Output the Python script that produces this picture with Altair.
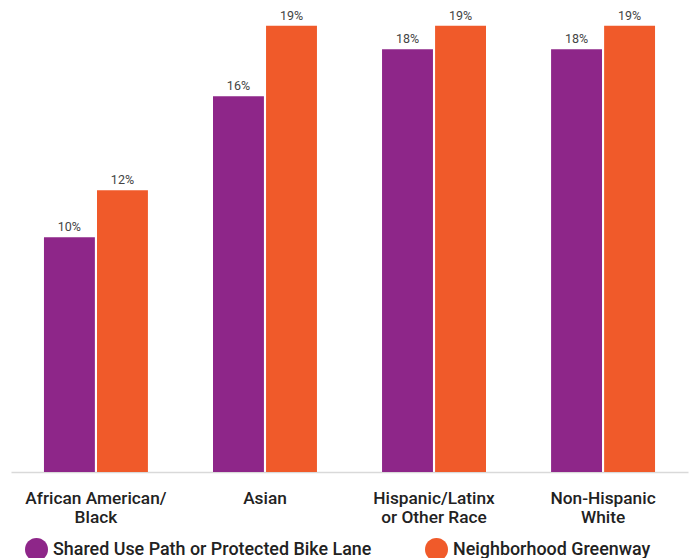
import altair as alt
import pandas as pd

# Share of respondents by race/ethnicity, for two facility types
groups = [
    "African American/\nBlack",
    "Asian",
    "Hispanic/Latinx\nor Other Race",
    "Non-Hispanic\nWhite",
]
facilities = ["Shared Use Path or Protected Bike Lane", "Neighborhood Greenway"]
shared_use_path = [10, 16, 18, 18]
greenway = [12, 19, 19, 19]
colors = ["#8E2689", "#F05A2A"]

rows = []
for g, a, b in zip(groups, shared_use_path, greenway):
    rows.append({"group": g, "facility": facilities[0], "pct": a})
    rows.append({"group": g, "facility": facilities[1], "pct": b})
df = pd.DataFrame(rows)
df["label"] = df["pct"].astype(str) + "%"

x = alt.X(
    "group:N",
    sort=groups,
    scale=alt.Scale(paddingInner=0.385, paddingOuter=0.195),
    axis=alt.Axis(
        title=None,
        labelAngle=0,
        ticks=False,
        labelPadding=17,
        labelLimit=0,
        labelExpr="split(datum.label, '\\n')",
        labelFont="Roboto",
        labelFontSize=17.3,
        labelFontWeight=500,
        labelColor="#222222",
        labelLineHeight=19,
        domainColor="#d9d9d9",
        domainWidth=1.5,
        grid=False,
    ),
)
xoff = alt.XOffset("facility:N", sort=facilities, scale=alt.Scale(paddingInner=0.04))
y = alt.Y("pct:Q", scale=alt.Scale(domain=[0, 20.1], nice=False), axis=None)

bars = alt.Chart(df).mark_bar().encode(
    x=x,
    xOffset=xoff,
    y=y,
    color=alt.Color(
        "facility:N",
        sort=facilities,
        scale=alt.Scale(domain=facilities, range=colors),
        legend=alt.Legend(
            title=None,
            orient="none",
            legendX=14,
            legendY=538,
            direction="horizontal",
            columns=2,
            columnPadding=53,
            padding=0,
            symbolType="circle",
            symbolSize=529,
            symbolStrokeWidth=0,
            symbolOpacity=1,
            labelOffset=5,
            labelLimit=0,
            labelFont="Roboto",
            labelFontSize=17.9,
            labelFontWeight=500,
            labelColor="#222222",
        ),
    ),
)

labels = alt.Chart(df).mark_text(
    baseline="bottom", dy=-3, font="Roboto", fontSize=12.5, color="#444444"
).encode(x=x, xOffset=xoff, y=y, text="label:N")

chart = (
    alt.layer(bars, labels)
    .properties(
        width=677,
        height=472,
        autosize=alt.AutoSizeParams(type="none"),
        padding={"left": 11, "top": 0, "right": 3, "bottom": 86},
    )
    .configure_view(stroke=None)
)

chart.save("out.html", embed_options={"renderer": "svg", "actions": False})
